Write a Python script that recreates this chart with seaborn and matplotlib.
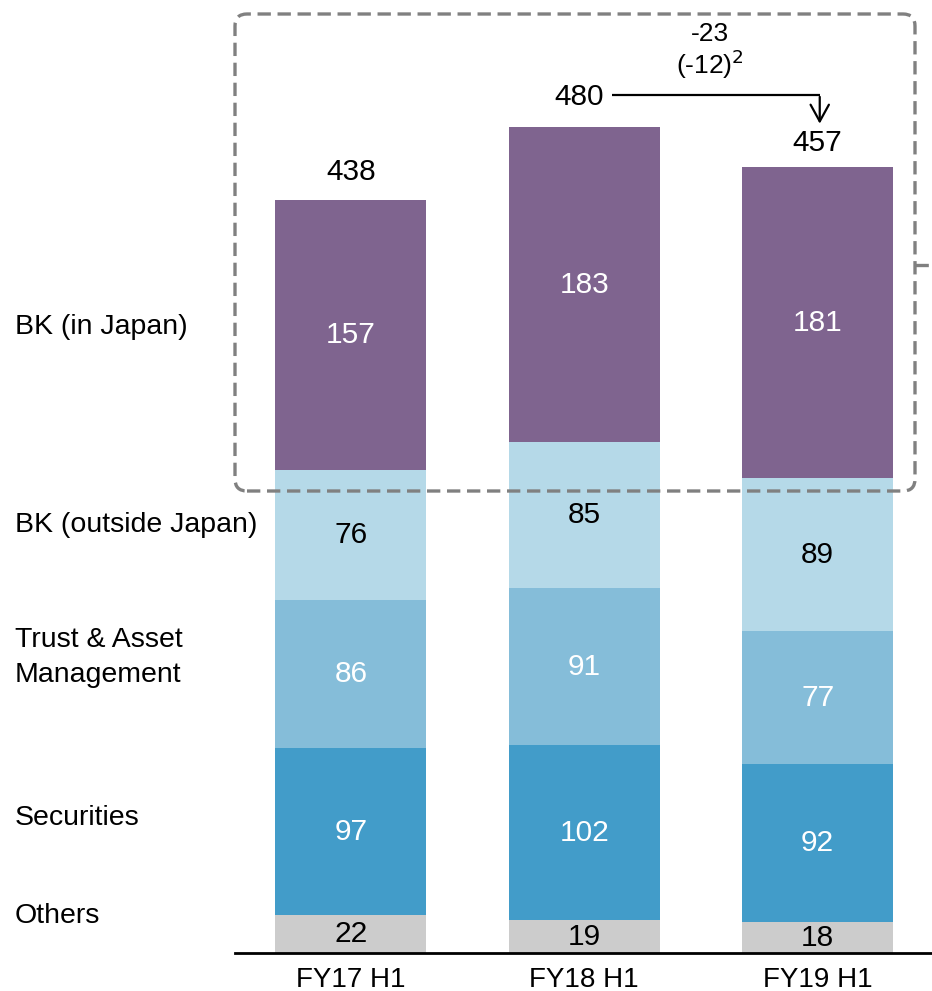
import numpy as np
import pandas as pd
import seaborn as sns
import matplotlib.pyplot as plt
from matplotlib.patches import FancyBboxPatch
from matplotlib.lines import Line2D
from matplotlib.transforms import blended_transform_factory

# data
periods = ["FY17 H1", "FY18 H1", "FY19 H1"]
segments = ["Others", "Securities", "Trust & Asset\nManagement", "BK (outside Japan)", "BK (in Japan)"]
others = [22, 19, 18]
securities = [97, 102, 92]
trust = [86, 91, 77]
bk_outside = [76, 85, 89]
bk_japan = [157, 183, 181]
totals = [438, 480, 457]
change_label = "-23"
change_sub = "(-12)$^2$"

colors = ["#cccccc", "#429cc9", "#85bdd9", "#b5d9e8", "#7f648f"]
text_colors = ["black", "white", "white", "black", "white"]

sns.set_theme(style="white")
plt.rcParams["font.family"] = ["Liberation Sans", "DejaVu Sans"]
plt.rcParams["text.color"] = "black"
plt.rcParams["xtick.color"] = "black"

fig = plt.figure(figsize=(9.32, 9.91), dpi=100)
ax = fig.add_axes([0.252, 0.0383, 0.748, 0.9617])

df = pd.DataFrame({"period": periods, "Others": others, "Securities": securities,
                   "Trust & Asset\nManagement": trust, "BK (outside Japan)": bk_outside,
                   "BK (in Japan)": bk_japan})

bottom = np.zeros(len(periods))
for seg, col, tc in zip(segments, colors, text_colors):
    sns.barplot(data=df, x="period", y=seg, color=col, width=0.647, bottom=bottom,
                ax=ax, saturation=1, linewidth=0)
    for i, v in enumerate(df[seg]):
        ax.text(i, bottom[i] + v / 2, str(v), ha="center", va="center", color=tc, fontsize=21.5)
    bottom = bottom + df[seg].values

ax.set_xlim(-0.497, 2.49)
ax.set_ylim(0, 554)
ax.set_ylabel("")
ax.set_xlabel("")
ax.set_yticks([])
ax.tick_params(axis="x", length=0, labelsize=20, pad=10)
for s in ["top", "right", "left"]:
    ax.spines[s].set_visible(False)
ax.spines["bottom"].set_color("black")
ax.spines["bottom"].set_linewidth(2)

# totals
ax.text(0, totals[0] + 16, str(totals[0]), ha="center", va="center", fontsize=21.5)
ax.text(0.98, 497.5, str(totals[1]), ha="center", va="center", fontsize=21.5)
ax.text(2, totals[2] + 14, str(totals[2]), ha="center", va="center", fontsize=21.5)

# change arrow
ax.plot([1.118, 2.009], [498.5, 498.5], color="black", lw=1.6, solid_capstyle="butt")
ax.annotate("", xy=(2.009, 480.5), xytext=(2.009, 499.3),
            arrowprops=dict(arrowstyle="->,head_length=1.0,head_width=0.55", color="black", lw=1.6))
ax.text(1.54, 534, change_label, ha="center", va="center", fontsize=19)
ax.text(1.54, 516.5, change_sub, ha="center", va="center", fontsize=19)

# segment names at left
trans = blended_transform_factory(fig.transFigure, ax.transData)
label_y = [21.5, 78.5, 171.6, 249, 364]
for name, y in zip(segments, label_y):
    ax.text(15 / 932, y, name, transform=trans, ha="left", va="center", fontsize=20.5,
            linespacing=1.45, clip_on=False)

# dashed box around BK (in Japan)
box = FancyBboxPatch((2.35 + 0.12, 5.00 + 0.12), 6.80 - 0.24, 4.77 - 0.24,
                     boxstyle="round,pad=0.12", transform=fig.dpi_scale_trans,
                     fill=False, edgecolor="#808080", lw=2.4, linestyle=(0, (4, 2)))
fig.patches.append(box)
fig.lines.append(Line2D([9.15, 9.32], [7.26, 7.26], transform=fig.dpi_scale_trans,
                        color="#808080", lw=2.4, linestyle=(0, (4, 2))))

fig.savefig("out.png", dpi=100)
